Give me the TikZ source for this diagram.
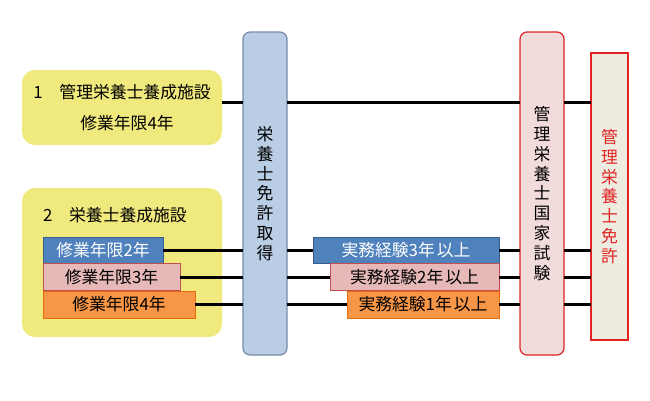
\documentclass[tikz,border=0pt]{standalone}
\usepackage{fontspec}
\setmainfont{Noto Sans CJK JP}
\definecolor{yel}{RGB}{240,233,125}
\definecolor{colblue}{RGB}{185,205,229}
\definecolor{colblueb}{RGB}{120,140,168}
\definecolor{colpink}{RGB}{242,220,219}
\definecolor{colred}{RGB}{225,35,35}
\definecolor{colbeige}{RGB}{238,236,225}
\definecolor{bblue}{RGB}{79,129,189}
\definecolor{bblueb}{RGB}{56,93,138}
\definecolor{bpink}{RGB}{230,185,184}
\definecolor{bpinkb}{RGB}{192,80,77}
\definecolor{borange}{RGB}{247,150,70}
\definecolor{borangeb}{RGB}{228,108,10}
\tikzset{
  base/.style={inner sep=0pt, outer sep=0pt, font=\fontsize{16.8}{19.8}\selectfont},
  ybox/.style={base, fill=yel, rounded corners=13pt, minimum width=200pt},
  column/.style={base, minimum width=44pt, minimum height=323pt, rounded corners=7pt, line width=1.2pt, align=center},
  bluebox/.style={base, draw=bblueb, fill=bblue, text=white, line width=1pt},
  pinkbox/.style={base, draw=bpinkb, fill=bpink, line width=1pt},
  orangebox/.style={base, draw=borangeb, fill=borange, line width=1pt},
  conn/.style={line width=3pt, black},
}
\begin{document}
\begin{tikzpicture}[x=1pt,y=-1pt]
\useasboundingbox (0,0) rectangle (650,400);
\node[ybox, minimum height=75pt, align=center, font=\fontsize{16.8}{31}\selectfont] (b1) at (122,107.5) {1　管理栄養士養成施設\\\hspace*{10pt}修業年限4年};
\node[ybox, minimum height=149pt] (b2) at (122,262.5) {};
\node[base, anchor=west] (b2t) at (43,215) {2　栄養士養成施設};
\node[column, draw=colblueb, fill=colblue] (c1) at (265,193.5) {栄\\養\\士\\免\\許\\取\\得};
\node[column, draw=colred, fill=colpink] (c2) at (542,193.5) {管\\理\\栄\\養\\士\\国\\家\\試\\験};
\node[column, draw=colred, fill=colbeige, rounded corners=0pt, minimum width=37pt, minimum height=287pt, text=colred] (c3) at (609.5,196.5) {管\\理\\栄\\養\\士\\免\\許};
% left small boxes
\node[bluebox, minimum width=120pt, minimum height=26pt] (s2) at (103,250) {修業年限2年};
\node[pinkbox, minimum width=137pt, minimum height=27pt] (s3) at (111.5,277) {修業年限3年};
\node[orangebox, minimum width=152pt, minimum height=27pt] (s4) at (119,304.5) {修業年限4年};
% right experience boxes
\node[bluebox, minimum width=186pt, minimum height=26pt] (e3) at (406,250) {実務経験3年\hspace{2pt}以上};
\node[pinkbox, minimum width=169pt, minimum height=27pt] (e2) at (414.5,277) {実務経験2年\hspace{2pt}以上};
\node[orangebox, minimum width=152pt, minimum height=27pt] (e1) at (423,304.5) {実務経験1年\hspace{2pt}以上};
% connectors
\coordinate (p1) at ([yshift=5.5pt]b1.east);
\draw[conn] (p1) -- (p1 -| c1.west) (p1 -| c1.east) -- (p1 -| c2.west) (p1 -| c2.east) -- (p1 -| c3.west);
\draw[conn] (s2.east) -- (s2.east -| c1.west) (s2.east -| c1.east) -- (e3.west)
  (e3.east) -- (e3.east -| c2.west) (e3.east -| c2.east) -- (e3.east -| c3.west);
\draw[conn] (s3.east) -- (s3.east -| c1.west) (s3.east -| c1.east) -- (e2.west)
  (e2.east) -- (e2.east -| c2.west) (e2.east -| c2.east) -- (e2.east -| c3.west);
\draw[conn] (s4.east) -- (s4.east -| c1.west) (s4.east -| c1.east) -- (e1.west)
  (e1.east) -- (e1.east -| c2.west) (e1.east -| c2.east) -- (e1.east -| c3.west);
\end{tikzpicture}
\end{document}
